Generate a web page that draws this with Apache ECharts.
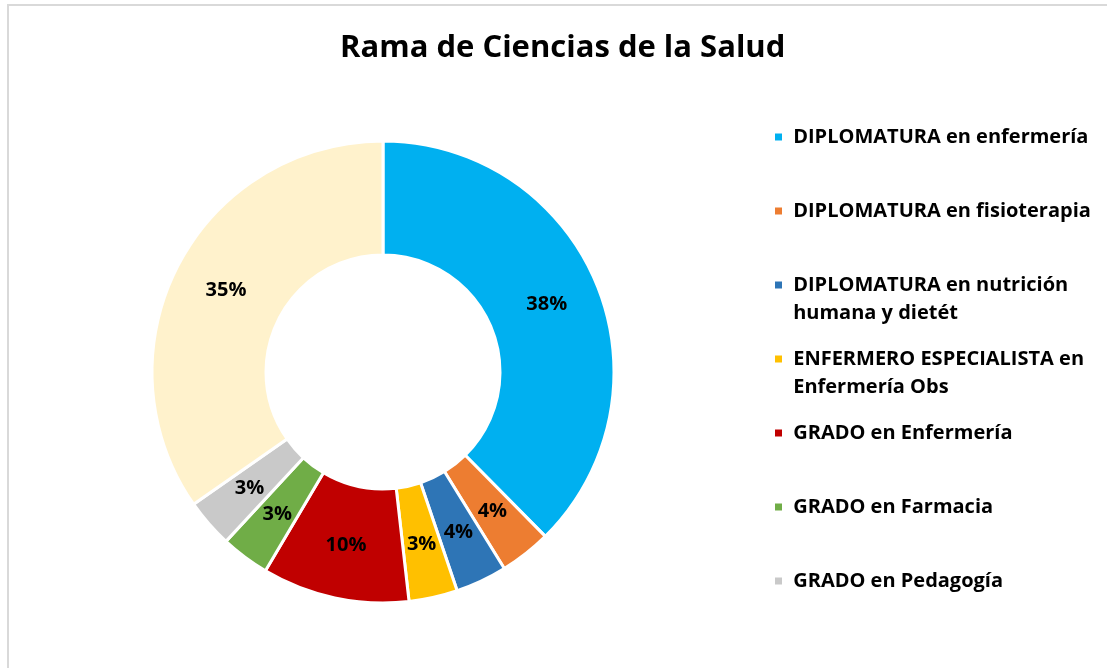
<!DOCTYPE html>
<html>
<head>
<meta charset="utf-8">
<script src="https://cdn.jsdelivr.net/npm/echarts@6/dist/echarts.min.js"></script>
<style>
  body { margin: 0; background: #fff; }
  #frame {
    position: absolute; left: 7px; top: 4px; width: 1300px; height: 900px;
    border-top: 2px solid #d9d9d9; border-left: 2px solid #d9d9d9;
  }
  #chart { position: absolute; left: 0; top: 0; width: 1107px; height: 668px; }
</style>
</head>
<body>
<div id="frame"></div>
<div id="chart"></div>
<script>
// datos (porcentaje de cada titulación)
const categories = [
  "DIPLOMATURA en enfermería",
  "DIPLOMATURA en fisioterapia",
  "DIPLOMATURA en nutrición humana y dietét",
  "ENFERMERO ESPECIALISTA en Enfermería Obs",
  "GRADO en Enfermería",
  "GRADO en Farmacia",
  "GRADO en Pedagogía",
  "Otras titulaciones",
];
const values = [37.6, 3.6, 3.6, 3.4, 10.3, 3.4, 3.4, 34.7];
const colors = [
  "#00B0F0", "#ED7D31", "#2E75B6", "#FFC000",
  "#C00000", "#70AD47", "#C9C9C9", "#FFF2CC",
];
// texto de la leyenda, con saltos de línea como en el original
const legendLabels = [
  ["DIPLOMATURA en enfermería"],
  ["DIPLOMATURA en fisioterapia"],
  ["DIPLOMATURA en nutrición", "humana y dietét"],
  ["ENFERMERO ESPECIALISTA en", "Enfermería Obs"],
  ["GRADO en Enfermería"],
  ["GRADO en Farmacia"],
  ["GRADO en Pedagogía"],
];

const FONT = "'Open Sans', sans-serif";
const LINE = 28;

const chart = echarts.init(document.getElementById("chart"));

// una leyenda por elemento para fijar la posición vertical de cada uno;
// las de dos líneas llevan una línea vacía arriba para que el icono
// quede a la altura de la primera línea
const legends = legendLabels.map((lines, i) => {
  const twoLines = lines.length > 1;
  const iconY = 137 + i * 74;
  const text = lines.map((l) => " " + l).join("\n");
  return {
    orient: "vertical",
    left: 773,
    top: iconY - (twoLines ? 42 : 14),
    padding: 0,
    itemWidth: 9,
    itemHeight: 9,
    icon: "rect",
    selectedMode: false,
    data: [categories[i]],
    formatter: () => (twoLines ? "\n" + text : text),
    textStyle: {
      fontFamily: FONT,
      fontSize: 20,
      fontWeight: "bold",
      color: "#000",
      lineHeight: LINE,
    },
  };
});

const option = {
  backgroundColor: "transparent",
  color: colors,
  title: {
    text: "Rama de Ciencias de la Salud",
    left: 340,
    top: 29,
    padding: 0,
    textStyle: {
      fontFamily: FONT,
      fontSize: 31,
      fontWeight: "bold",
      color: "#000",
      lineHeight: 38,
    },
  },
  legend: legends,
  series: [
    {
      type: "pie",
      center: [383, 372],
      radius: [117, 231],
      startAngle: 90,
      clockwise: true,
      avoidLabelOverlap: false,
      animation: false,
      itemStyle: {
        borderColor: "#fff",
        borderWidth: 3,
      },
      label: {
        show: true,
        position: "inside",
        formatter: (p) => Math.round(p.value) + "%",
        fontFamily: FONT,
        fontSize: 20,
        fontWeight: "bold",
        color: "#000",
        textBorderWidth: 0,
      },
      labelLine: { show: false },
      emphasis: { disabled: true },
      data: categories.map((name, i) => ({ name, value: values[i] })),
    },
  ],
};

chart.setOption(option);
</script>
</body>
</html>
